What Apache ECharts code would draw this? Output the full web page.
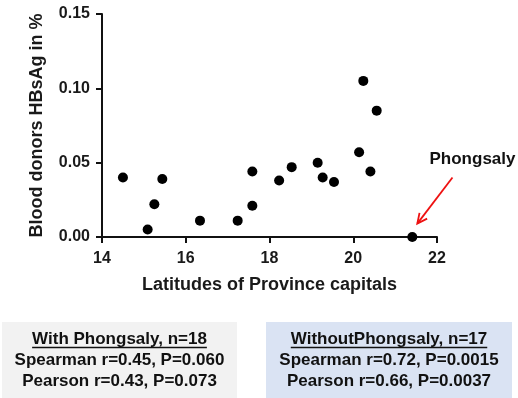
<!DOCTYPE html>
<html>
<head>
<meta charset="utf-8">
<script src="https://cdn.jsdelivr.net/npm/echarts@6/dist/echarts.min.js"></script>
<style>
  html, body { margin: 0; padding: 0; background: #fff; }
  #chart { width: 518px; height: 398px; }
</style>
</head>
<body>
<div id="chart"></div>
<script>
// Latitude of each province capital and its HBsAg positivity among blood donors (%)
const latitudes = [14.50, 15.09, 15.25, 15.44, 16.34, 17.24, 17.59, 17.59, 18.23,
                   18.53, 19.15, 19.27, 19.54, 20.14, 20.24, 20.41, 20.56, 21.41];
const hbsagPct  = [0.040, 0.005, 0.022, 0.039, 0.011, 0.011, 0.044, 0.021, 0.038,
                   0.047, 0.050, 0.040, 0.037, 0.057, 0.105, 0.044, 0.085, 0.000];
const xTicks = [14, 16, 18, 20, 22];
const yTicks = [0.00, 0.05, 0.10, 0.15];

// Callout pointing at the outlier (data coordinates)
const outlierName = 'Phongsaly';
const arrowFrom = [22.37, 0.040];
const arrowTo   = [21.53, 0.009];

const withStats = ['With Phongsaly, n=18', 'Spearman r=0.45, P=0.060', 'Pearson r=0.43, P=0.073'];
const withoutStats = ['WithoutPhongsaly, n=17', 'Spearman r=0.72, P=0.0015', 'Pearson r=0.66, P=0.0037'];

const FONT = '"Liberation Sans", Arial, sans-serif';
const BOX_FONT = 'bold 17px ' + FONT;

const chart = echarts.init(document.getElementById('chart'), null, { renderer: 'canvas' });

const measureCtx = document.createElement('canvas').getContext('2d');
function textWidth(str, font) {
  measureCtx.font = font;
  return measureCtx.measureText(str).width;
}

function statBox(x, w, fill, lines) {
  const cx = x + w / 2;
  const ul = textWidth(lines[0], BOX_FONT);
  const txt = (s, y) => ({ type: 'text', style: { text: s, x: cx, y: y, align: 'center',
    verticalAlign: 'middle', font: BOX_FONT, fill: '#111' } });
  return {
    type: 'group',
    children: [
      { type: 'rect', shape: { x: x, y: 322, width: w, height: 76 }, style: { fill: fill } },
      txt(lines[0], 339),
      { type: 'line', shape: { x1: cx - ul / 2, y1: 347.5, x2: cx + ul / 2, y2: 347.5 },
        style: { stroke: '#111', lineWidth: 1.3 } },
      txt(lines[1], 360),
      txt(lines[2], 381)
    ]
  };
}

const axisName = { fontFamily: FONT, fontWeight: 'bold', fontSize: 18, color: '#1a1a1a' };
const tickLabel = { fontFamily: FONT, fontWeight: 'bold', fontSize: 16, color: '#1a1a1a' };

chart.setOption({
  animation: false,
  backgroundColor: '#fff',
  grid: { left: 102, top: 14, right: 81, bottom: 161, containLabel: false },
  xAxis: {
    type: 'value',
    min: xTicks[0], max: xTicks[xTicks.length - 1], interval: 2,
    name: 'Latitudes of Province capitals',
    nameLocation: 'middle', nameGap: 39,
    nameTextStyle: axisName,
    axisLine: { onZero: false, lineStyle: { color: '#111', width: 2 } },
    axisTick: { show: true, length: 6, lineStyle: { color: '#111', width: 2 } },
    axisLabel: Object.assign({ margin: 14 }, tickLabel),
    splitLine: { show: false }
  },
  yAxis: {
    type: 'value',
    min: yTicks[0], max: yTicks[yTicks.length - 1], interval: 0.05,
    name: 'Blood donors HBsAg in %',
    nameLocation: 'middle', nameGap: 56,
    nameTextStyle: axisName,
    axisLine: { show: true, onZero: false, lineStyle: { color: '#111', width: 2 } },
    axisTick: { show: true, length: 6, lineStyle: { color: '#111', width: 2 } },
    axisLabel: Object.assign({ margin: 12, formatter: v => v.toFixed(2) }, tickLabel),
    splitLine: { show: false }
  },
  series: [{
    type: 'scatter',
    clip: false,
    symbol: 'circle',
    symbolSize: 10,
    itemStyle: { color: '#000', opacity: 1 },
    data: latitudes.map((x, i) => [x, hbsagPct[i]])
  }],
  graphic: [
    statBox(2, 235, '#f2f2f2', withStats),
    statBox(266, 246, '#dae3f3', withoutStats)
  ]
});

// Red arrow + label for the outlier, placed through the grid's own scales
const p0 = chart.convertToPixel({ gridIndex: 0 }, arrowFrom);
const p1 = chart.convertToPixel({ gridIndex: 0 }, arrowTo);
const ang = Math.atan2(p1[1] - p0[1], p1[0] - p0[0]);
const headLen = 11, headSpread = 0.45;
const h1 = [p1[0] - headLen * Math.cos(ang - headSpread), p1[1] - headLen * Math.sin(ang - headSpread)];
const h2 = [p1[0] - headLen * Math.cos(ang + headSpread), p1[1] - headLen * Math.sin(ang + headSpread)];

chart.setOption({
  graphic: [
    statBox(2, 235, '#f2f2f2', withStats),
    statBox(266, 246, '#dae3f3', withoutStats),
    { type: 'line', shape: { x1: p0[0], y1: p0[1], x2: p1[0], y2: p1[1] },
      style: { stroke: '#ee1111', lineWidth: 1.8 } },
    { type: 'polyline', shape: { points: [h1, p1, h2] },
      style: { stroke: '#ee1111', lineWidth: 1.8, fill: null } },
    { type: 'text', style: { text: outlierName, x: p0[0] + 20, y: p0[1] - 18, align: 'center',
        verticalAlign: 'middle', font: BOX_FONT, fill: '#111' } }
  ]
}, { replaceMerge: ['graphic'] });
</script>
</body>
</html>
